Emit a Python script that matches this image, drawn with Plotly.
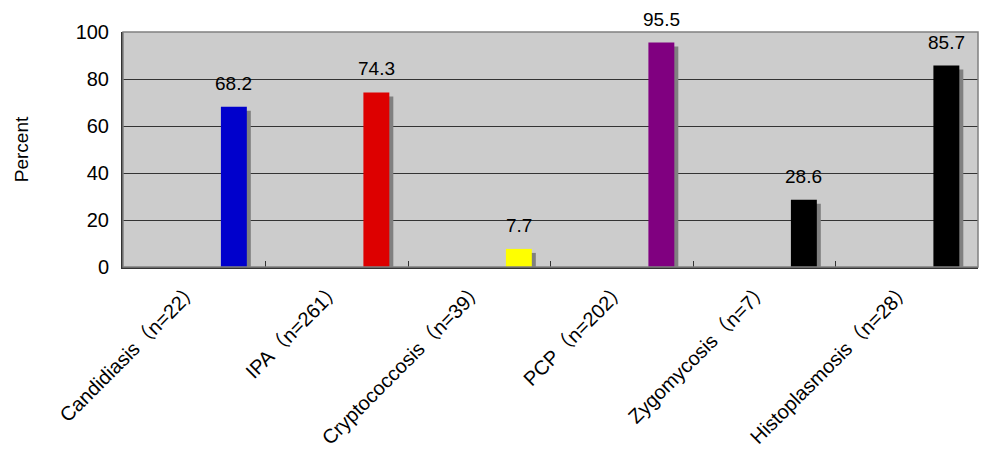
import plotly.graph_objects as go

# Categories, values and bar colours
categories = [
    "Candidiasis（n=22）",
    "IPA（n=261）",
    "Cryptococcosis（n=39）",
    "PCP（n=202）",
    "Zygomycosis（n=7）",
    "Histoplasmosis（n=28）",
]
percent = [68.2, 74.3, 7.7, 95.5, 28.6, 85.7]
bar_colors = ["#0000CC", "#DD0000", "#FFFF00", "#800080", "#000000", "#000000"]

y_ticks = [0, 20, 40, 60, 80, 100]

BAR_OFFSET = 0.187     # left edge of a bar relative to its category centre
BAR_WIDTH = 0.182
SHADOW_DX = 0.028      # shadow shift, in category units
SHADOW_DY = 1.7        # shadow drop, in percent units

positions = list(range(len(categories)))

fig = go.Figure()

# Drop shadows behind the bars
fig.add_trace(go.Bar(
    x=categories,
    y=[v - SHADOW_DY for v in percent],
    offset=BAR_OFFSET + SHADOW_DX,
    width=BAR_WIDTH,
    marker=dict(color="#808080", line=dict(width=0)),
    hoverinfo="skip",
    showlegend=False,
))

# Main bars
fig.add_trace(go.Bar(
    x=categories,
    y=percent,
    offset=BAR_OFFSET,
    width=BAR_WIDTH,
    marker=dict(color=bar_colors, line=dict(width=0)),
    showlegend=False,
))

# Value labels above each bar
for i, v in zip(positions, percent):
    fig.add_annotation(
        x=i + BAR_OFFSET + BAR_WIDTH / 2,
        y=v,
        text=f"{v}",
        showarrow=False,
        yanchor="bottom",
        yshift=11,
        font=dict(size=19, color="#000000"),
    )

# Plot area frame (light on top/right)
fig.add_shape(
    type="rect", xref="paper", yref="paper", x0=0, y0=0, x1=1, y1=1,
    line=dict(color="#808080", width=1.5), layer="above",
)

fig.update_layout(
    width=981,
    height=466,
    margin=dict(l=123, r=3, t=32, b=199),
    paper_bgcolor="#FFFFFF",
    plot_bgcolor="#CCCCCC",
    barmode="overlay",
    font=dict(family="Liberation Sans, Arial, Noto Sans CJK JP, sans-serif", size=19, color="#000000"),
    xaxis=dict(
        type="category",
        range=[-0.5, len(categories) - 0.5],
        tickangle=-45,
        ticks="inside",
        tickson="boundaries",
        ticklen=6,
        tickcolor="#333333",
        tickwidth=1,
        showline=True,
        linecolor="#333333",
        linewidth=2,
        showgrid=False,
        tickfont=dict(size=20),
    ),
    yaxis=dict(
        range=[0, 100],
        tickvals=y_ticks,
        showgrid=True,
        gridcolor="#333333",
        gridwidth=1,
        ticks="inside",
        ticklen=5,
        tickcolor="#333333",
        showline=True,
        linecolor="#333333",
        linewidth=2,
        zeroline=False,
        tickfont=dict(size=20),
        ticklabelstandoff=8,
        title=dict(text="Percent", font=dict(size=19), standoff=42),
    ),
)

fig.write_html("out.html")
